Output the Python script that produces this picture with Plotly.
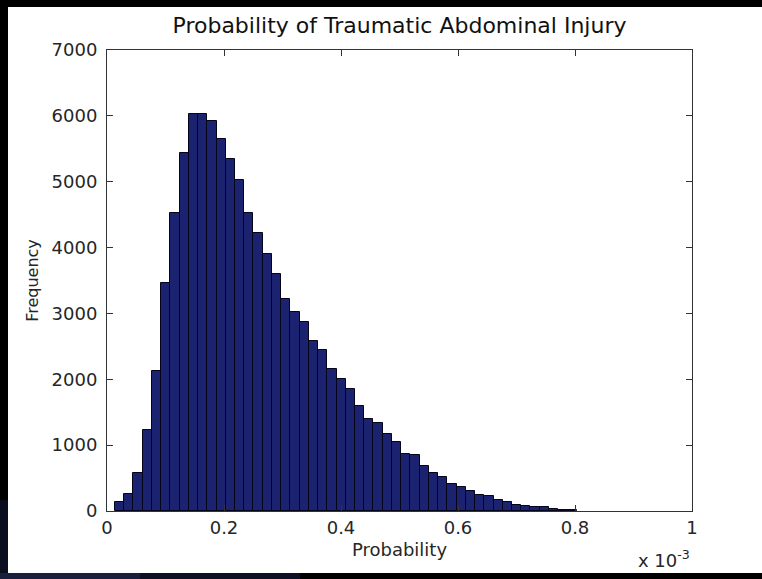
import plotly.graph_objects as go

# Data (probability histogram, 50 bins)
bin_start = 0.0137e-3
bin_width = 0.01578e-3
counts = [140, 265, 580, 1235, 2130, 3460, 4530, 5440, 6030, 6030,
          5925, 5655, 5350, 5025, 4530, 4225, 3900, 3595, 3220, 3015,
          2875, 2585, 2445, 2155, 2005, 1845, 1595, 1400, 1335, 1175,
          1050, 865, 845, 685, 578, 510, 410, 370, 306, 250,
          228, 172, 135, 88, 80, 68, 58, 25, 18, 12]
x_tickvals = [0, 0.2e-3, 0.4e-3, 0.6e-3, 0.8e-3, 1.0e-3]
x_ticktext = ["0", "0.2", "0.4", "0.6", "0.8", "1"]
y_tickvals = [0, 1000, 2000, 3000, 4000, 5000, 6000, 7000]

centers = [bin_start + (i + 0.5) * bin_width for i in range(len(counts))]

W, H = 762, 579
L, R, T, B = 107, 692, 50, 511
pw, ph = R - L, B - T

def px_x(p):
    return (p - L) / pw

def px_y(p):
    return (B - p) / ph

FONT = "DejaVu Sans, Liberation Sans, Arial, sans-serif"
TXT = "#262626"

fig = go.Figure()
fig.add_trace(go.Bar(
    x=centers, y=counts, width=bin_width,
    marker=dict(color="#1b2270", line=dict(color="#05051a", width=1)),
    showlegend=False, hoverinfo="x+y",
))

shapes = [
    # white figure area
    dict(type="rect", xref="paper", yref="paper", layer="below",
         x0=px_x(8), x1=px_x(765), y0=px_y(573), y1=px_y(7),
         fillcolor="white", line=dict(width=0)),
    # dark blue tint at bottom-left
    dict(type="rect", xref="paper", yref="paper", layer="below",
         x0=px_x(0), x1=px_x(140), y0=px_y(579), y1=px_y(573),
         fillcolor="#1a1f3e", line=dict(width=0)),
    dict(type="rect", xref="paper", yref="paper", layer="below",
         x0=px_x(140), x1=px_x(300), y0=px_y(579), y1=px_y(573),
         fillcolor="#0e1126", line=dict(width=0)),
    dict(type="rect", xref="paper", yref="paper", layer="below",
         x0=px_x(0), x1=px_x(8), y0=px_y(573), y1=px_y(500),
         fillcolor="#0b0e1e", line=dict(width=0)),
]

fig.update_layout(
    width=W, height=H,
    margin=dict(l=L, r=W - R, t=T, b=H - B),
    paper_bgcolor="black", plot_bgcolor="white",
    bargap=0,
    font=dict(family=FONT, size=18, color=TXT),
    title=dict(text="Probability of Traumatic Abdominal Injury",
               x=0.5, xref="paper", y=1 - 25 / H, yref="container",
               xanchor="center", yanchor="middle",
               font=dict(family=FONT, size=22, color="#111")),
    xaxis=dict(range=[0, 1e-3], tickvals=x_tickvals, ticktext=x_ticktext,
               ticks="inside", ticklen=6, tickcolor="#333", showline=True,
               linecolor="#333", linewidth=1, mirror="ticks", showgrid=False,
               zeroline=False, tickfont=dict(size=18),
               title=dict(text="Probability", standoff=6,
                          font=dict(family=FONT, size=18, color=TXT))),
    yaxis=dict(range=[0, 7000], tickvals=y_tickvals,
               ticks="inside", ticklen=6, tickcolor="#333", showline=True,
               linecolor="#333", linewidth=1, mirror="ticks", showgrid=False,
               zeroline=False, tickfont=dict(size=18), ticklabelstandoff=5,
               title=dict(text="Frequency", standoff=8,
                          font=dict(family=FONT, size=16, color=TXT))),
    shapes=shapes,
    annotations=[dict(text="x 10<sup>-3</sup>", xref="paper", yref="paper",
                      x=1, y=px_y(573), xanchor="right", yanchor="bottom",
                      showarrow=False, font=dict(family=FONT, size=18, color=TXT))],
)

fig.write_html(
    "out.html",
    config={"displayModeBar": False},
    post_script="document.body.style.margin='0';document.body.style.background='black';",
)
